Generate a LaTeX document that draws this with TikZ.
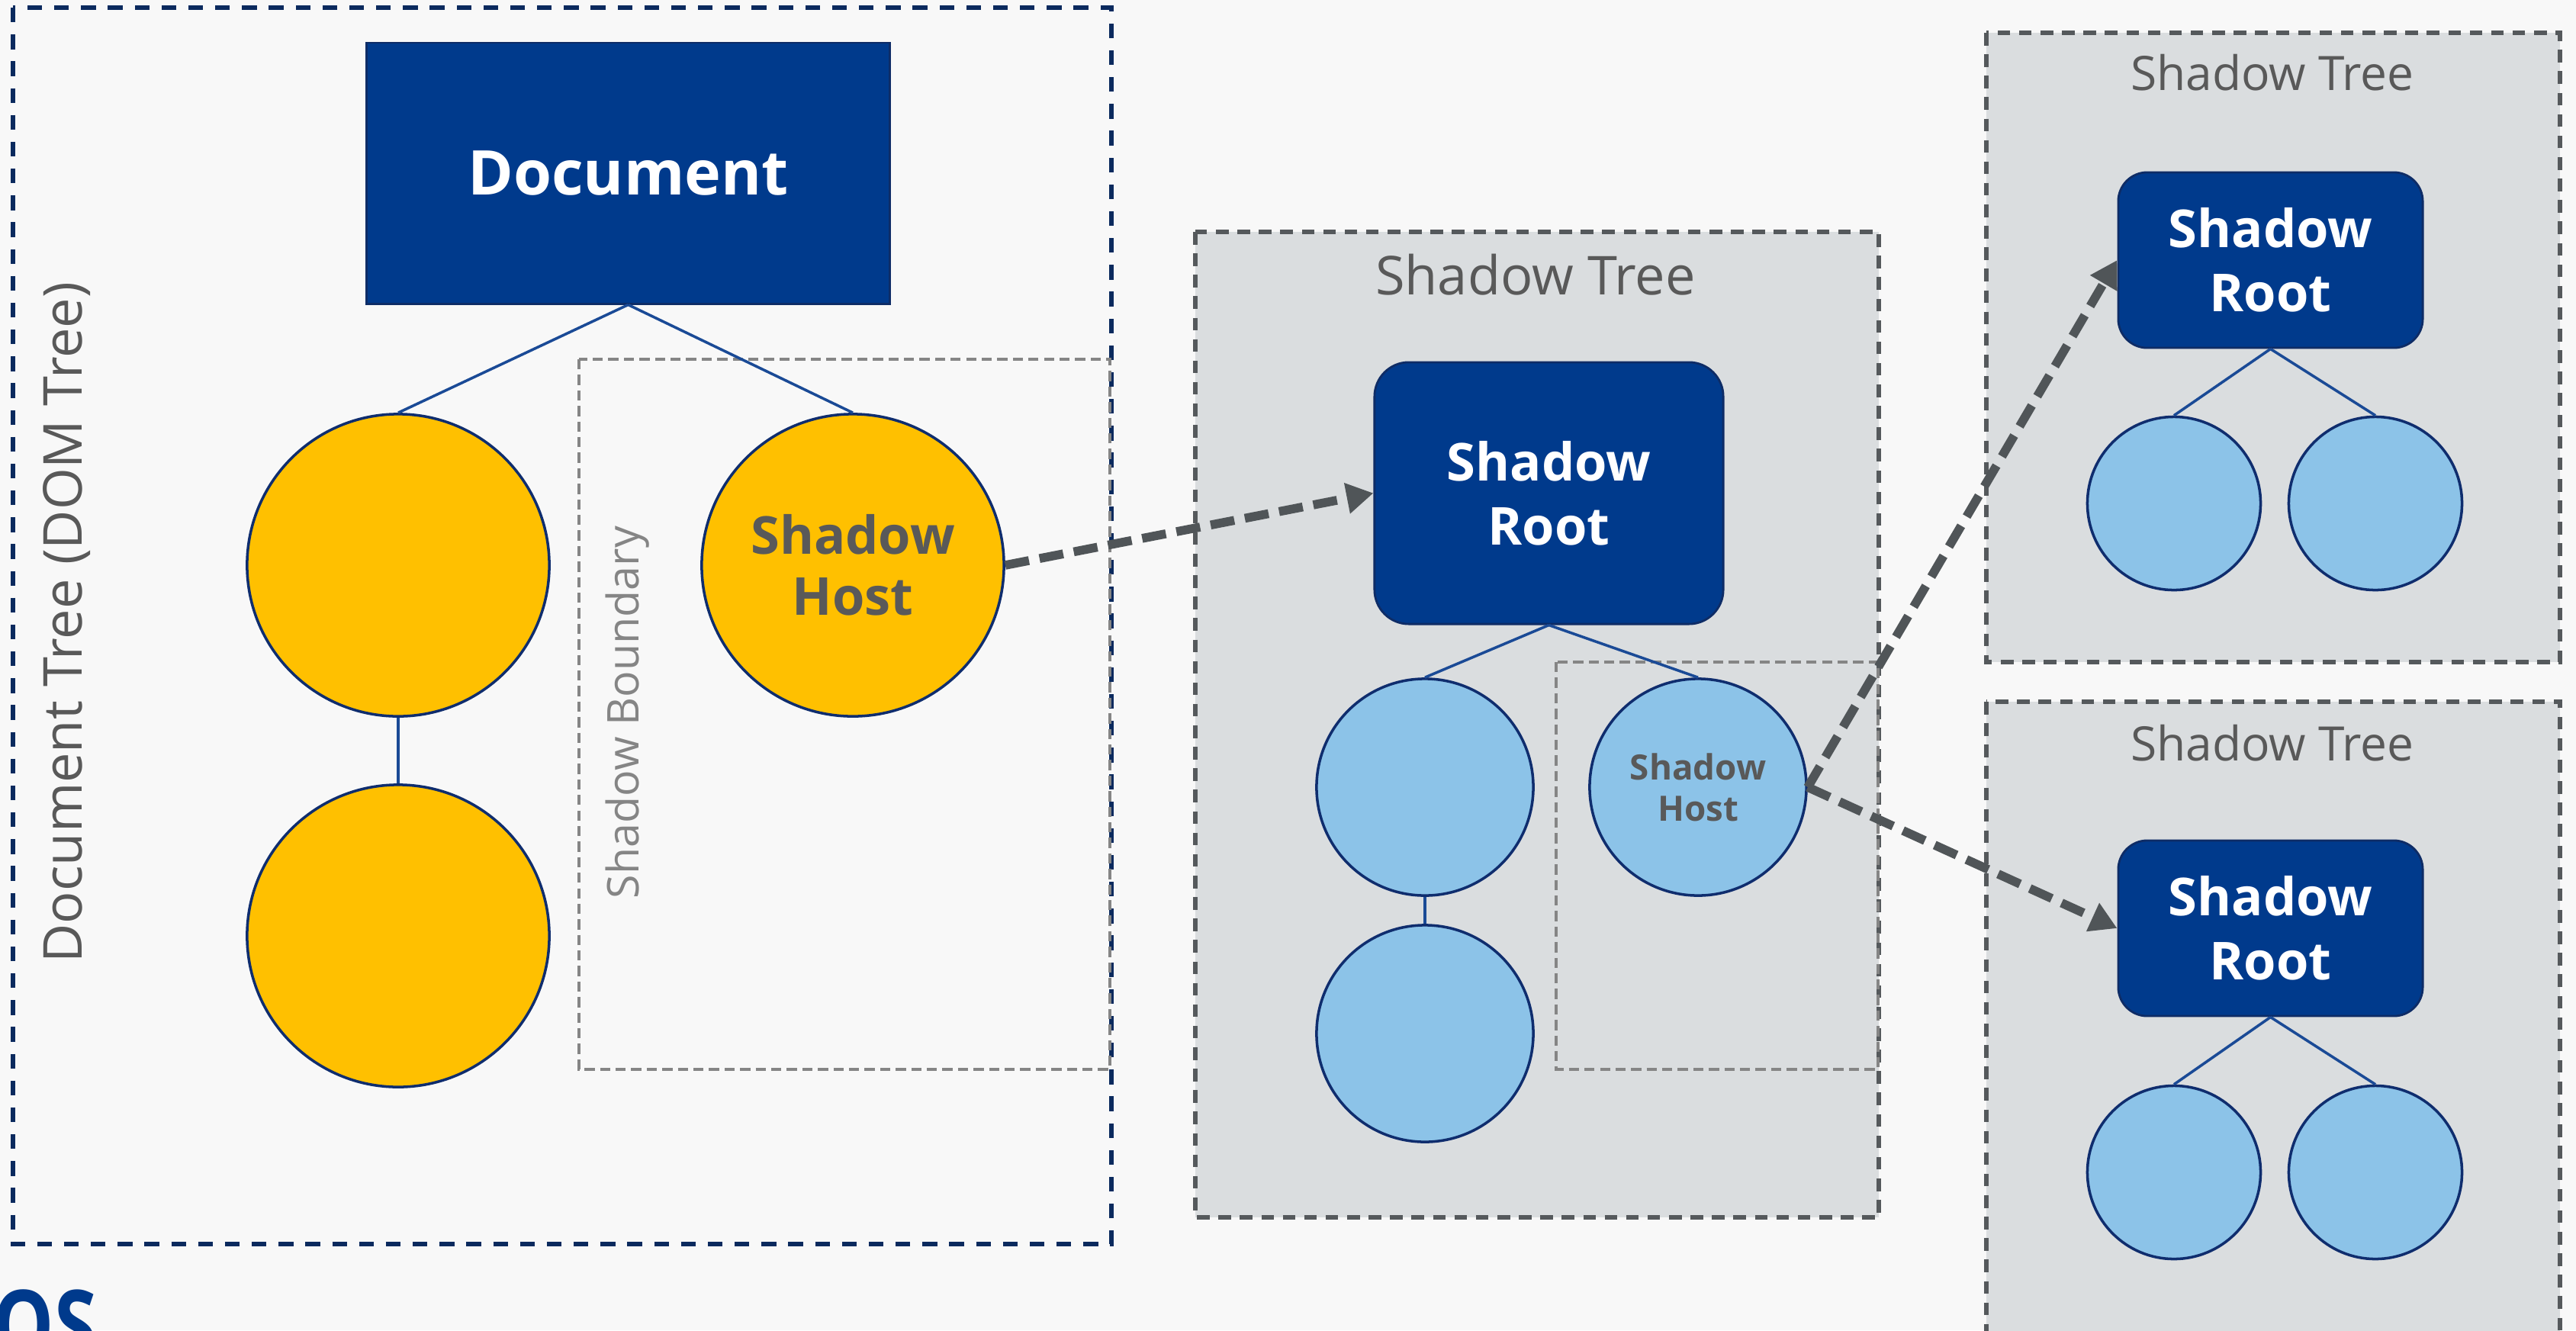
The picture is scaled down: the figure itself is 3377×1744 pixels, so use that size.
\documentclass[tikz,border=0pt]{standalone}
\usepackage{fontspec}
\setmainfont{Open Sans}
\usetikzlibrary{arrows.meta}

\definecolor{navy}{HTML}{003A8C}
\definecolor{navyline}{HTML}{0E2C66}
\definecolor{outerline}{HTML}{0B2A5E}
\definecolor{hostyellow}{HTML}{FFC000}
\definecolor{lightblue}{HTML}{8CC3E8}
\definecolor{circleline}{HTML}{0F2D6E}
\definecolor{linkblue}{HTML}{1A4A96}
\definecolor{treefill}{HTML}{DADDDF}
\definecolor{boxgray}{HTML}{55595C}
\definecolor{boundgray}{HTML}{858585}
\definecolor{labelgray}{HTML}{595959}
\definecolor{arrowgray}{HTML}{505558}
\definecolor{pagebg}{HTML}{F8F8F8}

\begin{document}
\begin{tikzpicture}[x=0.01cm, y=-0.01cm,
  docnode/.style={rectangle, fill=navy, draw=navyline, line width=0.8pt, text=white,
    font=\bfseries\fontsize{23}{28}\selectfont, minimum width=6.85cm, minimum height=3.42cm},
  rootnode/.style={rectangle, fill=navy, draw=navyline, line width=0.8pt, text=white,
    align=center, inner sep=0pt, font=\bfseries\fontsize{19.5}{24}\selectfont},
  ynode/.style={circle, fill=hostyellow, draw=circleline, line width=1pt, inner sep=0pt,
    minimum size=3.96cm, align=center, text=labelgray, font=\bfseries\fontsize{19.5}{22.7}\selectfont},
  bnode/.style={circle, fill=lightblue, draw=circleline, line width=1pt, inner sep=0pt,
    align=center, text=labelgray},
  link/.style={draw=linkblue, line width=1pt},
  treebox/.style={draw=boxgray, fill=treefill, line width=1.6pt, dash pattern=on 4.7pt off 3.3pt},
  boundbox/.style={draw=boundgray, line width=1.2pt, dash pattern=on 3.8pt off 2pt},
  hostarrow/.style={draw=arrowgray, line width=3.3pt, dash pattern=on 9pt off 4pt,
    -{Triangle[length=10pt,width=11pt]}},
  boxlabel/.style={text=labelgray}
]
% page
\fill[pagebg] (0,0) rectangle (3377,1744);
\useasboundingbox (0,0) rectangle (3377,1744);

% Document tree
\draw[outerline, line width=1.6pt, dash pattern=on 5.5pt off 4.5pt] (17,10) rectangle (1457,1631);
\draw[boundbox] (759,471) rectangle (1455,1402);
\node[boxlabel, rotate=90, font=\fontsize{20}{24}\selectfont] (domlabel) at (88,816) {Document Tree (DOM Tree)};
\node[rotate=90, text=boundgray, font=\fontsize{16.3}{20}\selectfont] (boundlabel) at (823,934) {Shadow Boundary};

\node[docnode] (doc) at (823.5,227) {Document};
\node[ynode] (y1) at (522,741) {};
\node[ynode] (y2) at (522,1227) {};
\node[ynode] (yhost) at (1118,741) {Shadow\\Host};
\draw[link] (doc.south) -- (y1.north);
\draw[link] (doc.south) -- (yhost.north);
\draw[link] (y1.south) -- (y2.north);

% Shadow tree in the middle
\draw[treebox] (1567,304) rectangle (2463,1596);
\node[boxlabel, font=\fontsize{20}{24}\selectfont] (midlabel) at (2013,360) {Shadow Tree};
\draw[boundbox] (2040,868) rectangle (2462,1402);

\node[rootnode, rounded corners=0.45cm, minimum width=4.57cm, minimum height=3.43cm] (sroot) at (2030.5,646.5) {Shadow\\Root};
\node[bnode, minimum size=2.84cm] (b1) at (1868,1032) {};
\node[bnode, minimum size=2.84cm] (b2) at (1868,1355) {};
\node[bnode, minimum size=2.84cm, font=\bfseries\fontsize{13}{15.3}\selectfont] (shost) at (2226,1032) {Shadow\\Host};
\draw[link] (sroot.south) -- (b1.north);
\draw[link] (sroot.south) -- (shost.north);
\draw[link] (b1.south) -- (b2.north);

% Shadow trees on the right
\draw[treebox] (2604,43) rectangle (3356,868);
\draw[treebox] (2604,920) rectangle (3356,1800);
\node[boxlabel, font=\fontsize{17.7}{21}\selectfont] (labelA) at (2979,95) {Shadow Tree};
\node[boxlabel, font=\fontsize{17.7}{21}\selectfont] (labelB) at (2979,974) {Shadow Tree};

\node[rootnode, rounded corners=0.38cm, minimum width=3.99cm, minimum height=2.30cm] (rootA) at (2976.5,341) {Shadow\\Root};
\node[bnode, minimum size=2.27cm] (a1) at (2850,660) {};
\node[bnode, minimum size=2.27cm] (a2) at (3114,660) {};
\draw[link] (rootA.south) -- (a1.north);
\draw[link] (rootA.south) -- (a2.north);

\node[rootnode, rounded corners=0.38cm, minimum width=3.99cm, minimum height=2.30cm] (rootB) at (2976.5,1217) {Shadow\\Root};
\node[bnode, minimum size=2.27cm] (c1) at (2850,1537) {};
\node[bnode, minimum size=2.27cm] (c2) at (3114,1537) {};
\draw[link] (rootB.south) -- (c1.north);
\draw[link] (rootB.south) -- (c2.north);

% host arrows
\draw[hostarrow] (yhost.east) -- (sroot.west);
\draw[hostarrow] (shost.east) -- (rootA.west);
\draw[hostarrow] (shost.east) -- (rootB.west);

% logo corner
\node[anchor=north west, inner sep=0pt, text=navy, xscale=0.8, transform shape,
  font=\bfseries\fontsize{36}{40}\selectfont] (logo) at (-10,1690) {OS};
\end{tikzpicture}
\end{document}
